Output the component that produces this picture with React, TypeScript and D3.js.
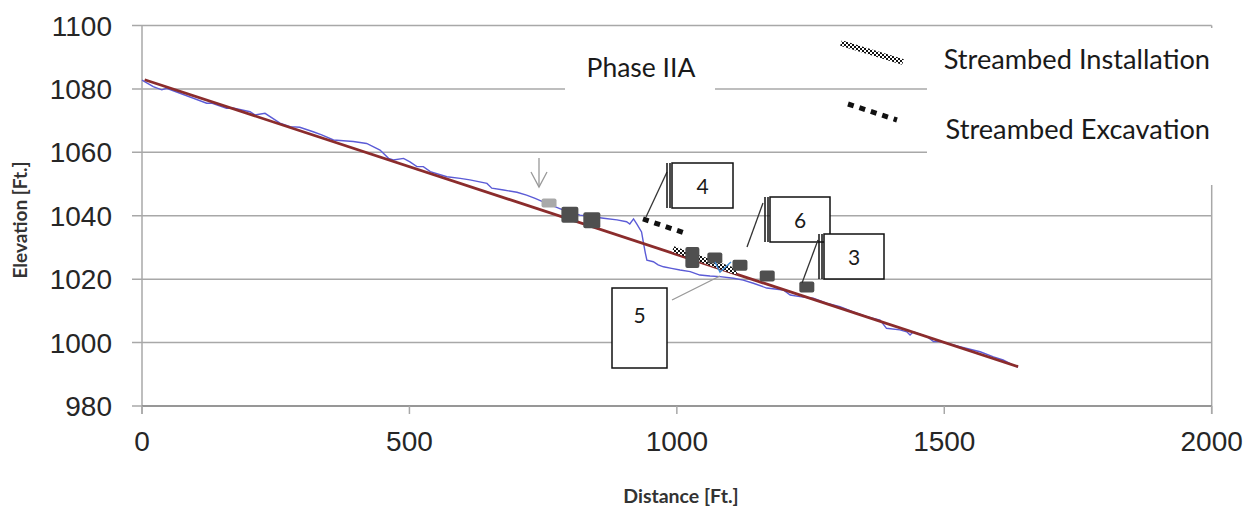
import React from "react";
import * as d3 from "d3";

// ---- data ----
const yTicks = [980, 1000, 1020, 1040, 1060, 1080, 1100];
const xTicks = [0, 500, 1000, 1500, 2000];

const profileDist = [0,21,37,46,121,130,158,170,202,211,230,258,277,295,320,336,358,395,420,445,461,470,489,501,514,526,539,570,595,613,645,654,676,701,719,735,750,788,819,863,888,906,912,919,925,934,937,941,944,956,965,975,990,1006,1025,1043,1062,1081,1106,1124,1143,1168,1199,1212,1230,1255,1280,1305,1330,1355,1380,1392,1417,1430,1436,1442,1467,1480,1492,1505,1529,1567,1592,1610,1629,1638];
const profileElev = [1082.8,1080.7,1079.7,1080.2,1075.5,1075.5,1073.9,1074.0,1072.8,1071.8,1072.3,1069.2,1068.1,1067.9,1066.5,1065.5,1063.9,1063.4,1062.8,1060.7,1058.1,1057.6,1058.1,1057.0,1055.5,1055.5,1053.9,1052.3,1051.8,1051.3,1050.2,1048.7,1048.1,1047.4,1046.5,1045.5,1044.4,1041.8,1040.2,1039.2,1038.7,1038.1,1037.4,1039.0,1037.4,1034.9,1032.0,1028.3,1026.0,1025.5,1024.5,1023.9,1023.4,1022.9,1022.4,1021.3,1021.0,1020.8,1020.3,1019.7,1018.7,1017.2,1016.6,1015.0,1014.5,1014.0,1012.4,1011.3,1009.7,1008.2,1007.1,1004.5,1004.0,1003.4,1002.4,1003.4,1001.9,1000.3,1000.3,999.8,998.7,997.1,995.5,994.5,992.9,992.3];

const trendDist = [5, 1638];
const trendElev = [1082.9, 992.4];

const markerDist = [761, 800, 841, 1029, 1071, 1118, 1169, 1243];
const markerElev = [1044.0, 1040.3, 1038.6, 1026.8, 1026.7, 1024.4, 1021.0, 1017.5];
const markerKind = ["light", "large", "large", "tall", "small", "small", "small", "small"];

const excavationDist = [936.7, 1020.9];
const excavationElev = [1039.0, 1034.2];
const installationDist = [992.8, 1112.5];
const installationElev = [1029.5, 1022.3];

const callouts = ["4", "6", "3", "5"];
const legendLabels = ["Streambed Installation", "Streambed Excavation"];
const phaseLabel = "Phase IIA";

export default function App() {
  const W = 1248, H = 506;
  const x = d3.scaleLinear().domain([0, 2000]).range([142, 1211.7]);
  const y = d3.scaleLinear().domain([980, 1100]).range([406, 25.5]);

  const line = d3.line<[number, number]>().x((d) => x(d[0])).y((d) => y(d[1]));
  const profile = line(profileDist.map((d, i) => [d, profileElev[i]] as [number, number]));
  const trend = line(trendDist.map((d, i) => [d, trendElev[i]] as [number, number]));
  const excav = line(excavationDist.map((d, i) => [d, excavationElev[i]] as [number, number]));
  const install = line(installationDist.map((d, i) => [d, installationElev[i]] as [number, number]));

  const sizes: Record<string, [number, number, string]> = {
    light: [15, 9, "#a9a9a9"],
    large: [17, 16, "#4f4f4f"],
    tall: [14, 21, "#4f4f4f"],
    small: [15, 11, "#4f4f4f"],
  };

  const grid = "#a8a8a8";
  const calib = "Lato, 'Open Sans', sans-serif";

  const boxes = [
    { t: callouts[0], bx: 672, by: 163, w: 61, h: 45, bars: true, lx1: 667, ly1: 172, lx2: 646, ly2: 217, lc: "#333" },
    { t: callouts[1], bx: 770, by: 197, w: 60, h: 45, bars: true, lx1: 763, ly1: 203, lx2: 747, ly2: 247, lc: "#333" },
    { t: callouts[2], bx: 824, by: 234, w: 60, h: 45, bars: true, lx1: 818, ly1: 240, lx2: 802, ly2: 283, lc: "#333" },
    { t: callouts[3], bx: 612, by: 288, w: 55, h: 80, bars: false, lx1: 672, ly1: 300, lx2: 720, ly2: 276, lc: "#999" },
  ];

  return (
    <svg width={W} height={H} style={{ position: "absolute", left: 0, top: 0, background: "#fff" }}>
      <defs>
        <pattern id="checker" width="4" height="4" patternUnits="userSpaceOnUse">
          <rect width="4" height="4" fill="#fff" />
          <rect width="2" height="2" fill="#111" />
          <rect x="2" y="2" width="2" height="2" fill="#111" />
        </pattern>
      </defs>

      {yTicks.map((t) => (
        <g key={t}>
          <line x1={132} x2={x(2000)} y1={y(t)} y2={y(t)} stroke={grid} strokeWidth={1.5} />
          <text x={112} y={y(t)} dy="0.36em" textAnchor="end" fontFamily="'Liberation Sans', Arial, sans-serif" fontSize={28} fill="#262626">
            {t}
          </text>
        </g>
      ))}
      <line x1={x(0)} x2={x(0)} y1={y(1100)} y2={414} stroke={grid} strokeWidth={1.5} />
      <line x1={x(2000)} x2={x(2000)} y1={y(1100)} y2={414} stroke={grid} strokeWidth={1.5} />
      <line x1={x(0)} x2={x(2000)} y1={y(980)} y2={y(980)} stroke="#8a8a8a" strokeWidth={1.5} />
      {xTicks.map((t) => (
        <g key={t}>
          <line x1={x(t)} x2={x(t)} y1={y(980)} y2={414} stroke={grid} strokeWidth={1.5} />
          <text x={x(t)} y={451} textAnchor="middle" fontFamily="'Liberation Sans', Arial, sans-serif" fontSize={28} fill="#262626">
            {t}
          </text>
        </g>
      ))}

      {/* legend cover box */}
      <rect x={927} y={28} width={321} height={157} fill="#fff" />
      {/* phase label box */}
      <rect x={565} y={42} width={150} height={52} fill="#fff" />
      <text x={641} y={77} textAnchor="middle" fontFamily={calib} fontSize={26.5} fill="#1a1a1a">{phaseLabel}</text>

      {/* legend */}
      <line x1={841} y1={43} x2={903} y2={62} stroke="url(#checker)" strokeWidth={6} />
      <text x={1210} y={69} textAnchor="end" fontFamily={calib} fontSize={27.2} fill="#1a1a1a">{legendLabels[0]}</text>
      <line x1={848} y1={104} x2={897} y2={120} stroke="#111" strokeWidth={5} strokeDasharray="6 6" />
      <text x={1210} y={139} textAnchor="end" fontFamily={calib} fontSize={27.2} fill="#1a1a1a">{legendLabels[1]}</text>

      {/* data lines */}
      <path d={profile || ""} fill="none" stroke="#5b5bd6" strokeWidth={1.4} />
      <path d={trend || ""} fill="none" stroke="#8b2c2c" strokeWidth={2.8} />

      {/* streambed symbols */}
      <path d={excav || ""} fill="none" stroke="#111" strokeWidth={5} strokeDasharray="6 6" />
      <path d={install || ""} fill="none" stroke="url(#checker)" strokeWidth={6} />

      {/* markers */}
      {markerDist.map((d, i) => {
        const [w, h, c] = sizes[markerKind[i]];
        return <rect key={i} x={x(d) - w / 2} y={y(markerElev[i]) - h / 2} width={w} height={h} rx={2} fill={c} />;
      })}

      {/* blue V */}
      <polyline points="715,262 720,272 731,262" fill="none" stroke="#3d8ad6" strokeWidth={1.5} />

      {/* arrow */}
      <g stroke="#999" strokeWidth={1.3} fill="none">
        <line x1={539} y1={158} x2={539} y2={187} />
        <polyline points="531,172 539,187 547,172" />
      </g>

      {/* callouts */}
      {boxes.map((b) => (
        <g key={b.t}>
          <line x1={b.lx1} y1={b.ly1} x2={b.lx2} y2={b.ly2} stroke={b.lc} strokeWidth={1.3} />
          {b.bars && (
            <g stroke="#111" strokeWidth={1.5}>
              <line x1={b.bx - 5} x2={b.bx - 5} y1={b.by} y2={b.by + b.h} />
              <line x1={b.bx - 2} x2={b.bx - 2} y1={b.by} y2={b.by + b.h} />
            </g>
          )}
          <rect x={b.bx} y={b.by} width={b.w} height={b.h} fill="#fff" stroke="#111" strokeWidth={1.5} />
          <text x={b.bx + b.w / 2} y={b.bars ? b.by + b.h / 2 + 8 : b.by + 35} textAnchor="middle" fontFamily={calib} fontSize={21} fill="#1a1a1a">
            {b.t}
          </text>
        </g>
      ))}

      {/* axis titles */}
      <text x={681} y={503} textAnchor="middle" fontFamily={calib} fontWeight="bold" fontSize={19.5} fill="#333">Distance [Ft.]</text>
      <text transform="translate(27,220) rotate(-90)" textAnchor="middle" fontFamily={calib} fontWeight="bold" fontSize={19} fill="#333">Elevation [Ft.]</text>
    </svg>
  );
}
